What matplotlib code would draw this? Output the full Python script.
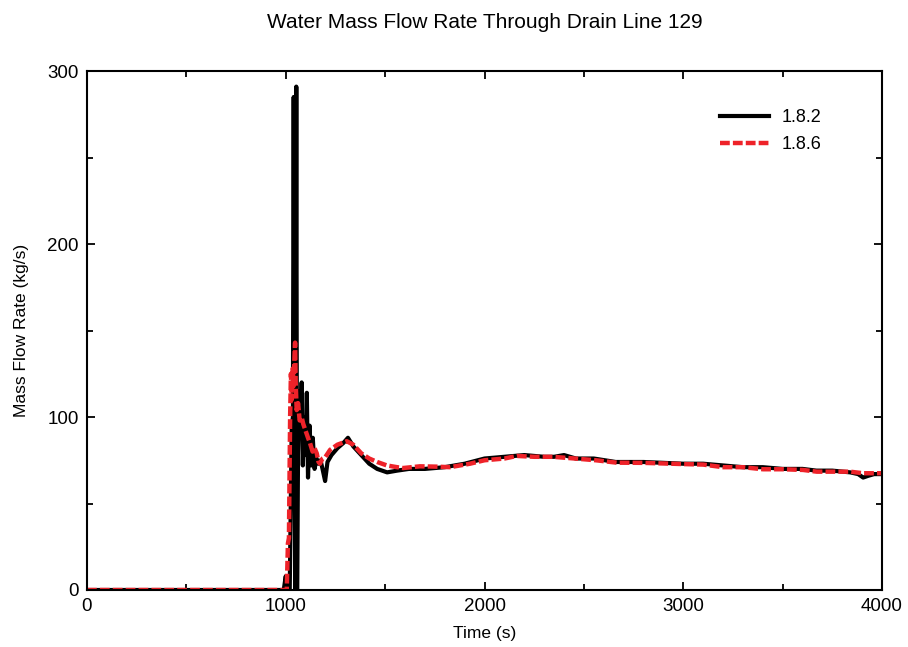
import matplotlib
matplotlib.use("Agg")
import matplotlib.pyplot as plt
from matplotlib.ticker import MultipleLocator

# 1.8.2 (black, solid)
t_182 = [0, 990, 1000, 1004, 1010, 1020, 1030, 1036, 1040, 1044, 1048, 1053, 1057,
         1062, 1068, 1075, 1080, 1086, 1092, 1100, 1106, 1112, 1120, 1128, 1136, 1145,
         1155, 1165, 1175, 1185, 1198, 1210, 1230, 1260, 1290, 1313, 1340, 1380, 1420,
         1460, 1510, 1560, 1620, 1700, 1800, 1900, 2000, 2100, 2200, 2300, 2350, 2400,
         2460, 2550, 2660, 2800, 3000, 3100, 3200, 3300, 3400, 3500, 3600, 3670, 3750,
         3840, 3880, 3905, 3930, 3960, 4000]
v_182 = [0, 0, 8, 0, 0, 0, 95, 100, 285, 90, 0, 291, 0,
         80, 115, 95, 120, 72, 100, 78, 114, 65, 95, 72, 88, 70,
         76, 73, 75, 70, 63, 74, 78, 82, 85, 88, 83, 78, 73,
         70, 68, 69, 70, 70, 71, 73, 76, 77, 78, 77, 77, 78,
         76, 76, 74, 74, 73, 73, 72, 71, 71, 70, 70, 69, 69,
         68, 67, 65, 66, 67, 67]

# 1.8.6 (red, dashed)
t_186 = [0, 1005, 1011, 1016, 1022, 1026, 1030, 1035, 1040, 1044, 1047, 1050, 1055,
         1062, 1070, 1080, 1088, 1100, 1112, 1122, 1135, 1145, 1156, 1165, 1172, 1185,
         1200, 1223, 1260, 1307, 1340, 1380, 1420, 1460, 1509, 1560, 1590, 1675, 1761,
         1826, 1927, 2000, 2100, 2163, 2250, 2345, 2455, 2560, 2666, 2800, 3000, 3100,
         3200, 3300, 3401, 3500, 3603, 3672, 3750, 3839, 3905, 3950, 4000]
v_186 = [0, 0, 27, 30, 100, 125, 110, 128, 118, 135, 143, 120, 104,
         108, 98, 100, 96, 92, 88, 85, 80, 82, 79, 74, 73, 76,
         77, 81, 84, 86, 84, 79, 76, 74, 72, 71, 70.5, 71.5, 71.3,
         71, 73, 75, 76, 77.5, 77, 77, 76, 75, 73.6, 73.5, 72.8, 72.5,
         71, 71, 69.8, 69.8, 69.4, 68.4, 68.4, 68.4, 67.5, 67.5, 67.5]

plt.rcParams['font.family'] = ['Liberation Sans', 'DejaVu Sans']

fig = plt.figure(figsize=(9.08, 6.47), dpi=100)
ax = fig.add_axes([0.0958, 0.0881, 0.8756, 0.8021])

ax.plot(t_182, v_182, color='black', linewidth=3.0, label='1.8.2')
ax.plot(t_186, v_186, color='#ee2229', linewidth=3.2, linestyle=(0, (2.2, 0.7)), label='1.8.6')

ax.set_xlim(0, 4000)
ax.set_ylim(0, 300)
ax.xaxis.set_major_locator(MultipleLocator(1000))
ax.xaxis.set_minor_locator(MultipleLocator(500))
ax.yaxis.set_major_locator(MultipleLocator(100))
ax.yaxis.set_minor_locator(MultipleLocator(50))
ax.tick_params(which='both', direction='in', top=True, right=True, width=1.3,
               labelsize=13.5, pad=6)
ax.tick_params(which='major', length=6)
ax.tick_params(which='minor', length=4.5)
for s in ax.spines.values():
    s.set_linewidth(1.5)

ax.set_title('Water Mass Flow Rate Through Drain Line 129', fontsize=15, pad=31)
ax.set_xlabel('Time (s)', fontsize=12.5, labelpad=8)
ax.set_ylabel('Mass Flow Rate (kg/s)', fontsize=12.5, labelpad=13)

ax.legend(loc='upper left', bbox_to_anchor=(0.776, 0.958), frameon=False,
          fontsize=13, handlelength=2.7, handletextpad=0.7, labelspacing=0.55)

fig.savefig('out.png', dpi=100)
